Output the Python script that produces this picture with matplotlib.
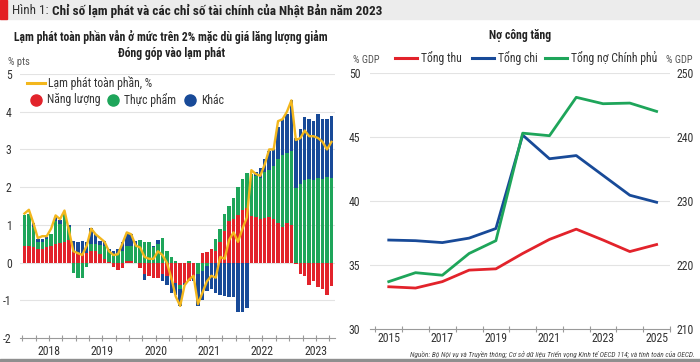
import matplotlib
matplotlib.use("Agg")
import matplotlib.pyplot as plt
from matplotlib import font_manager
from matplotlib.lines import Line2D
from matplotlib.patches import Rectangle
import numpy as np

# font: condensed look if available
names = {f.name for f in font_manager.fontManager.ttflist}
fam = [f for f in ["Liberation Sans Narrow", "Roboto Condensed", "Roboto"] if f in names] + ["DejaVu Sans"]
plt.rcParams["font.family"] = fam

# ---- left chart data: monthly contributions to CPI, Jan 2018 - Oct 2023 ----
energy = [0.45, 0.45, 0.40, 0.35, 0.35, 0.40, 0.45, 0.50, 0.52, 0.55, 0.60, 0.28,
          0.25, 0.22, 0.25, 0.30, 0.30, 0.22, 0.10, 0.02, -0.12, -0.20, -0.15, 0.05,
          0.05, 0.00, -0.15, -0.30, -0.35, -0.40, -0.40, -0.30, -0.35, -0.45, -0.55, -0.60,
          -0.55, -0.50, -0.35, 0.00, 0.25, 0.28, 0.35, 0.32, 0.55, 0.85, 1.10, 1.15,
          1.27, 1.40, 1.45, 1.23, 1.20, 1.15, 1.18, 1.20, 1.15, 1.05, 0.95, 1.05,
          1.00, -0.05, -0.30, -0.35, -0.60, -0.50, -0.65, -0.70, -0.85, -0.62]
food = [0.82, 0.85, 0.55, 0.20, 0.20, 0.22, 0.30, 0.60, 0.50, 0.75, 0.35, -0.28,
        -0.40, -0.42, -0.12, 0.20, 0.20, 0.25, 0.35, 0.30, 0.20, 0.25, 0.30, 0.40,
        0.40, 0.45, 0.60, 0.55, 0.55, 0.40, 0.50, 0.65, 0.30, 0.15, 0.05, -0.10,
        0.00, 0.05, -0.05, -0.30, -0.22, -0.10, 0.00, 0.30, 0.35, 0.45, 0.40, 0.55,
        0.73, 0.82, 0.93, 1.11, 1.10, 1.10, 1.22, 1.25, 1.40, 1.70, 1.90, 1.85,
        1.95, 1.98, 2.08, 2.20, 2.22, 2.18, 2.25, 2.22, 2.28, 2.25]
other = [0.00, 0.00, 0.10, 0.07, 0.07, 0.05, 0.00, 0.12, 0.12, 0.05, 0.05, 0.28,
         0.30, 0.35, 0.30, 0.42, 0.25, 0.10, 0.12, 0.05, 0.12, 0.10, 0.25, 0.30,
         0.30, 0.12, 0.00, -0.15, 0.00, 0.05, 0.10, -0.20, -0.25, -0.35, -0.30, -0.45,
         -0.05, 0.00, -0.10, -0.85, -0.78, -0.65, -0.70, -0.80, -0.85, -0.88, -0.90, -0.90,
         -1.32, -1.32, -1.20, 0.02, 0.10, 0.25, 0.35, 0.50, 0.45, 0.85, 0.95, 1.05,
         1.35, 1.32, 1.47, 1.65, 1.58, 1.57, 1.70, 1.58, 1.54, 1.63]
headline = [1.30, 1.40, 1.05, 0.65, 0.70, 0.70, 0.90, 1.25, 1.15, 1.38, 0.85, 0.30,
            0.25, 0.20, 0.45, 0.90, 0.75, 0.65, 0.55, 0.30, 0.20, 0.22, 0.50, 0.80,
            0.75, 0.45, 0.40, 0.15, 0.10, 0.10, 0.30, 0.20, 0.00, -0.40, -0.90, -1.15,
            -0.60, -0.45, -0.35, -1.10, -0.80, -0.50, -0.35, -0.40, 0.15, 0.10, 0.60, 0.80,
            0.55, 0.90, 1.20, 2.45, 2.35, 2.30, 2.60, 3.00, 3.00, 3.75, 3.80, 4.00,
            4.30, 3.25, 3.30, 3.50, 3.35, 3.35, 3.30, 3.20, 3.00, 3.20]
year_labels = ["2018", "2019", "2020", "2021", "2022", "2023"]

# ---- right chart data: % GDP ----
years = [2015, 2016, 2017, 2018, 2019, 2020, 2021, 2022, 2023, 2024, 2025]
revenue = [33.3, 33.2, 33.7, 34.6, 34.7, 35.9, 37.0, 37.8, 36.95, 36.05, 36.6]
spending = [36.95, 36.9, 36.75, 37.1, 37.85, 45.15, 43.3, 43.55, 42.0, 40.45, 39.9]
debt = [217.4, 218.8, 218.4, 221.8, 223.8, 240.6, 240.2, 246.2, 245.2, 245.3, 244.0]

RED = "#e2232b"
GREEN = "#1ea55a"
BLUE = "#184a98"
GOLD = "#f3b71d"
TXT = "#333333"
GRID = "#e3e3e3"
AXC = "#9a9a9a"

W, H = 700, 362
fig = plt.figure(figsize=(W / 100, H / 100), dpi=100)


def px(x, y):
    return x / W, 1 - y / H


# title bar
fig.patches.append(Rectangle(px(0, 19), 1, 19 / H, transform=fig.transFigure, color="#ececec", zorder=0))
fig.patches.append(Rectangle(px(0, 19), 7 / W, 19 / H, transform=fig.transFigure, color="#e31e24", zorder=1))
fig.patches.append(Rectangle(px(0, 362), 1, 3 / H, transform=fig.transFigure, color="#8f8f8f", zorder=1))
t1 = fig.text(*px(12, 10.5), "Hình 1: ", fontsize=9.5, color=TXT, va="center")
fig.canvas.draw()
bb = t1.get_window_extent(fig.canvas.get_renderer())
fig.text(bb.x1 / W, 1 - 10.5 / H, "Chỉ số lạm phát và các chỉ số tài chính của Nhật Bản năm 2023",
         fontsize=9.5, fontweight="bold", color="#222222", va="center")

# ---------------- left chart ----------------
ax = fig.add_axes([20 / W, 1 - 338 / H, 315 / W, 264 / H])
x = np.arange(len(headline))
pos = np.zeros(len(x))
neg = np.zeros(len(x))
for vals, col in [(energy, RED), (food, GREEN), (other, BLUE)]:
    v = np.array(vals)
    bottom = np.where(v >= 0, pos, neg)
    ax.bar(x, v, bottom=bottom, width=0.78, color=col, linewidth=0, zorder=2)
    pos = pos + np.where(v >= 0, v, 0)
    neg = neg + np.where(v < 0, v, 0)
ax.plot(x, headline, color=GOLD, lw=1.7, zorder=3, solid_joinstyle="round")

ax.set_ylim(-2, 5)
ax.set_xlim(-1.0, 69.8)
ax.set_yticks(range(-2, 6))
ax.set_yticklabels([str(v) for v in range(-2, 6)])
for v in range(-1, 6):
    ax.axhline(v, color=GRID, lw=0.8, zorder=1)
# quarterly tick marks, year labels at mid-year
ax.xaxis.remove_overlapping_locs = False
ax.set_xticks(np.arange(-0.5, 70, 3))
ax.set_xticklabels([])
ax.set_xticks([12 * k + 5.5 for k in range(6)], minor=True)
ax.set_xticklabels(year_labels, minor=True)
ax.tick_params(axis="x", which="major", direction="inout", length=5, color=AXC, width=0.8)
ax.tick_params(axis="x", which="minor", length=0, pad=5, labelsize=8.5, labelcolor=TXT)
ax.tick_params(axis="y", length=0, pad=6, labelsize=8.5, labelcolor=TXT)
for s in ["top", "right", "left"]:
    ax.spines[s].set_visible(False)
ax.spines["bottom"].set_color(AXC)
ax.spines["bottom"].set_linewidth(0.8)
ax.set_facecolor("none")

fig.text(*px(171, 37), "Lạm phát toàn phần vẫn ở mức trên 2% mặc dù giá lăng lượng giảm",
         fontsize=8.5, fontweight="bold", color="#222222", ha="center", va="center")
fig.text(*px(171, 53), "Đóng góp vào lạm phát", fontsize=8.5, fontweight="bold",
         color="#222222", ha="center", va="center")
fig.text(*px(8, 62), "% pts", fontsize=7.5, color="#555555", va="center")

# left legend
fig.lines.append(Line2D([27 / W, 45 / W], [1 - 83 / H] * 2, transform=fig.transFigure, color=GOLD, lw=2.2))
fig.text(*px(48, 83), "Lạm phát toàn phần, %", fontsize=8.5, color=TXT, va="center")
for cx, col, lab in [(36, RED, "Năng lượng"), (113, GREEN, "Thực phẩm"), (190, BLUE, "Khác")]:
    fig.lines.append(Line2D([cx / W], [1 - 100 / H], transform=fig.transFigure, marker="o",
                            markersize=8, color=col, lw=0))
    fig.text(*px(cx + 11, 100), lab, fontsize=8.5, color=TXT, va="center")

# ---------------- right chart ----------------
ax2 = fig.add_axes([370 / W, 1 - 329 / H, 300 / W, 256 / H])
ax2.plot(years, revenue, color=RED, lw=2.0, zorder=3, solid_joinstyle="round")
ax2.plot(years, spending, color=BLUE, lw=2.0, zorder=3, solid_joinstyle="round")
ax2.set_ylim(30, 50)
ax2.set_yticks([30, 35, 40, 45, 50])
for v in [35, 40, 45, 50]:
    ax2.axhline(v, color=GRID, lw=0.8, zorder=1)
ax2.set_xlim(2014.3, 2025.5)
ax2.set_xticks(np.arange(2014.5, 2025.6, 1))
ax2.set_xticklabels([])
ax2.set_xticks(years[::2], minor=True)
ax2.set_xticklabels([str(y) for y in years[::2]], minor=True)
ax2.tick_params(axis="x", which="major", direction="inout", length=5, color=AXC, width=0.8)
ax2.tick_params(axis="x", which="minor", length=0, pad=2.5, labelsize=8.5, labelcolor=TXT)
ax2.tick_params(axis="y", length=0, pad=7, labelsize=8.5, labelcolor=TXT)
for s in ["top", "right", "left"]:
    ax2.spines[s].set_visible(False)
ax2.spines["bottom"].set_color(AXC)
ax2.spines["bottom"].set_linewidth(0.8)

ax3 = ax2.twinx()
ax3.plot(years, debt, color=GREEN, lw=2.0, zorder=3, solid_joinstyle="round")
ax3.set_ylim(210, 250)
ax3.set_yticks([210, 220, 230, 240, 250])
ax3.tick_params(axis="y", length=0, pad=5, labelsize=8.5, labelcolor=TXT)
for s in ["top", "right", "left", "bottom"]:
    ax3.spines[s].set_visible(False)

fig.text(*px(520, 35), "Nợ công tăng", fontsize=8.5, fontweight="bold", color="#222222",
         ha="center", va="center")
fig.text(*px(353, 60), "% GDP", fontsize=7.5, color="#555555", va="center")
fig.text(*px(692, 60), "% GDP", fontsize=7.5, color="#555555", va="center", ha="right")
for x0, col, lab in [(395, RED, "Tổng thu"), (472, BLUE, "Tổng chi"), (545, GREEN, "Tổng nợ Chính phủ")]:
    fig.lines.append(Line2D([x0 / W, (x0 + 22) / W], [1 - 58 / H] * 2, transform=fig.transFigure,
                            color=col, lw=2.2))
    fig.text(*px(x0 + 26, 58), lab, fontsize=8.5, color=TXT, va="center")

fig.text(*px(695, 354), "Nguồn: Bộ Nội vụ và Truyền thông; Cơ sở dữ liệu Triển vọng Kinh tế OECD 114; và tính toán của OECD.",
         fontsize=5.3, style="italic", color="#444444", ha="right", va="center")

fig.savefig("out.png", dpi=100)
